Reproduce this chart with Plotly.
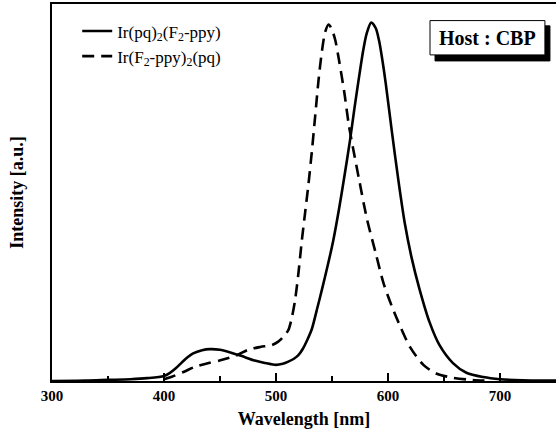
import plotly.graph_objects as go

# Data (wavelength in nm, normalized intensity)
solid_name = "Ir(pq)<sub>2</sub>(F<sub>2</sub>-ppy)"
solid_wl = [300, 330, 350, 370, 385, 400, 405, 410, 416, 421, 426, 434, 441, 450, 466, 481, 490,
            496, 500, 506, 511, 516, 520, 524, 528, 532, 537, 541, 546, 551, 556, 561, 566, 570,
            574, 578, 581, 585, 589, 592, 595, 598, 603.5, 609.5, 615, 621, 628, 637, 646, 658,
            670, 685, 700, 720, 750]
solid_int = [0.000, 0.001, 0.003, 0.005, 0.008, 0.014, 0.022, 0.034, 0.052, 0.066, 0.077, 0.086,
             0.089, 0.087, 0.073, 0.057, 0.050, 0.047, 0.045, 0.048, 0.054, 0.062, 0.072, 0.090,
             0.115, 0.145, 0.205, 0.255, 0.320, 0.390, 0.475, 0.570, 0.670, 0.760, 0.845, 0.925,
             0.970, 1.000, 0.985, 0.950, 0.895, 0.830, 0.695, 0.555, 0.440, 0.345, 0.258, 0.165,
             0.100, 0.050, 0.023, 0.011, 0.005, 0.002, 0.001]

dashed_name = "Ir(F<sub>2</sub>-ppy)<sub>2</sub>(pq)"
dashed_wl = [400, 407, 418, 428, 440, 452, 465, 475, 486, 496, 502, 507, 511, 514, 517, 520, 523,
             526, 529, 532, 535, 538, 541, 544, 547, 550, 553, 556, 561, 565, 570, 574, 581, 589,
             596, 603.5, 611, 620, 631.6, 643, 658, 675, 690]
dashed_int = [0.005, 0.012, 0.026, 0.040, 0.050, 0.059, 0.072, 0.087, 0.095, 0.100, 0.110, 0.125,
              0.142, 0.175, 0.225, 0.300, 0.390, 0.470, 0.550, 0.640, 0.740, 0.840, 0.920, 0.975,
              0.995, 0.980, 0.950, 0.900, 0.805, 0.715, 0.630, 0.565, 0.455, 0.357, 0.273, 0.208,
              0.152, 0.093, 0.045, 0.021, 0.009, 0.003, 0.001]

x_ticks = [300, 400, 500, 600, 700]
host_label = "Host : CBP"

FONT = "Liberation Serif, Times New Roman, serif"

fig = go.Figure()
fig.add_trace(go.Scatter(x=solid_wl, y=solid_int, mode="lines", name=solid_name,
                         line=dict(color="black", width=2.6, shape="spline", smoothing=0.8)))
fig.add_trace(go.Scatter(x=dashed_wl, y=dashed_int, mode="lines", name=dashed_name,
                         line=dict(color="black", width=2.6, dash="12px,7px",
                                   shape="spline", smoothing=0.8)))

# Host label box with shadow
fig.add_shape(type="rect", xref="paper", yref="paper", x0=0.760, x1=0.988, y0=0.849, y1=0.942,
              fillcolor="black", line=dict(color="black", width=1), layer="above")
fig.add_shape(type="rect", xref="paper", yref="paper", x0=0.750, x1=0.978, y0=0.865, y1=0.956,
              fillcolor="white", line=dict(color="black", width=1), layer="above")
fig.add_annotation(xref="paper", yref="paper", x=0.864, y=0.9105, text=host_label,
                   showarrow=False, font=dict(family=FONT, size=20, color="black", weight="bold"),
                   xanchor="center", yanchor="middle")

fig.update_layout(
    width=556, height=432,
    margin=dict(l=52, r=0, t=4, b=51),
    paper_bgcolor="white", plot_bgcolor="white",
    font=dict(family=FONT, color="black"),
    showlegend=True,
    legend=dict(x=0.05, y=0.975, xanchor="left", yanchor="top",
                bgcolor="rgba(0,0,0,0)", font=dict(family=FONT, size=17, color="black"),
                tracegroupgap=0),
)
fig.update_xaxes(
    range=[300, 750], tickvals=x_ticks, ticktext=[str(v) for v in x_ticks],
    ticks="inside", ticklen=8, tickwidth=1.5, tickcolor="black",
    minor=dict(ticks="inside", ticklen=5, tickwidth=1.5, tickcolor="black", dtick=50, tick0=300),
    showline=True, linecolor="black", linewidth=1.6, mirror=True,
    showgrid=False, zeroline=False,
    tickfont=dict(family=FONT, size=15, color="black", weight="bold"),
    title=dict(text="Wavelength [nm]", font=dict(family=FONT, size=18, color="black", weight="bold"),
               standoff=10),
)
fig.update_yaxes(
    range=[0, 1.052], showticklabels=False, ticks="",
    showline=True, linecolor="black", linewidth=1.6, mirror=False,
    showgrid=False, zeroline=False,
    title=dict(text="Intensity [a.u.]", font=dict(family=FONT, size=18, color="black", weight="bold"),
               standoff=22),
)

fig.write_html("out.html")
